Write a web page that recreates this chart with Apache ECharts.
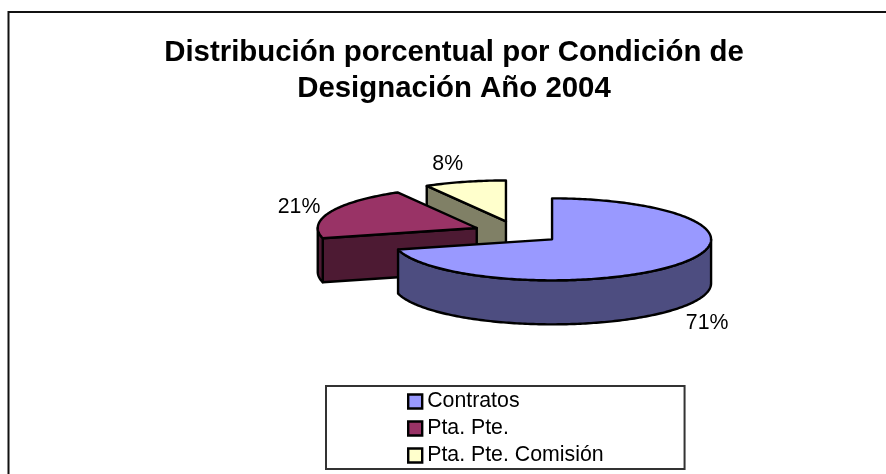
<!DOCTYPE html>
<html>
<head>
<meta charset="utf-8">
<style>html,body{margin:0;padding:0;background:#fff}#c{width:886px;height:474px}</style>
<script src="https://cdn.jsdelivr.net/npm/echarts@6/dist/echarts.min.js"></script>
</head>
<body>
<div id="c"></div>
<script>
const titleLines = ['Distribución porcentual por Condición de', 'Designación Año 2004'];
const categories = ['Contratos', 'Pta. Pte.', 'Pta. Pte. Comisión'];
const percentValues = [71, 20.7, 8.3];
const topColors = ['#9999FF', '#993366', '#FFFFCC'];
const wallColors = ['#4D4D80', '#4D1A33', '#808066'];

// Projection of the tilted, exploded pie
const cx = 517.3, cy = 232.4, rx = 159, ry = 41, depth = 44, explode = 44;
const total = percentValues.reduce((a, b) => a + b, 0);
const rad = d => d * Math.PI / 180;
const labelNudge = [[1, 2], [2, 3], [-8, 2]];

function sliceShapes(index) {
  const start = percentValues.slice(0, index).reduce((a, b) => a + b, 0) / total * 360;
  const end = start + percentValues[index] / total * 360;
  const mid = (start + end) / 2;
  const ax = cx + explode * Math.sin(rad(mid));
  const ay = cy - explode * (ry / rx) * Math.cos(rad(mid));
  const pt = (deg, drop) => [ax + rx * Math.sin(rad(deg)), ay - ry * Math.cos(rad(deg)) + (drop || 0)];
  const arc = (a, b, drop) => {
    const out = [];
    const n = Math.max(2, Math.ceil(Math.abs(b - a)));
    for (let i = 0; i <= n; i++) out.push(pt(a + (b - a) * i / n, drop));
    return out;
  };
  const stroke = { stroke: '#000', lineWidth: 2.4, lineJoin: 'round' };
  const children = [];
  const poly = (points, fill) => children.push({
    type: 'polygon', shape: { points }, style: Object.assign({ fill }, stroke)
  });
  // Cut faces that look towards the viewer
  if (Math.sin(rad(start)) < -1e-6) {
    const p = pt(start);
    poly([[ax, ay], p, [p[0], p[1] + depth], [ax, ay + depth]], wallColors[index]);
  }
  if (Math.sin(rad(end)) > 1e-6) {
    const p = pt(end);
    poly([[ax, ay], p, [p[0], p[1] + depth], [ax, ay + depth]], wallColors[index]);
  }
  // Outer rim where it faces the viewer
  const a = Math.max(start, 90), b = Math.min(end, 270);
  if (b > a) poly(arc(a, b).concat(arc(b, a, depth)), wallColors[index]);
  // Top face
  poly([[ax, ay]].concat(arc(start, end)), topColors[index]);
  // Percentage label
  const lx = ax + 195 * Math.sin(rad(mid)) + labelNudge[index][0];
  const ly = ay - 61 * Math.cos(rad(mid)) + labelNudge[index][1] + (Math.cos(rad(mid)) < 0 ? depth : 0);
  children.push({
    type: 'text',
    style: {
      x: lx, y: ly, text: Math.round(percentValues[index]) + '%', fill: '#000',
      font: '21.3px "Liberation Sans", Arial, sans-serif', align: 'center', verticalAlign: 'middle'
    }
  });
  return { type: 'group', children };
}

const series = categories.map((name, i) => ({
  type: 'custom',
  name,
  coordinateSystem: 'none',
  silent: true,
  animation: false,
  z: 3 - i,
  itemStyle: { color: topColors[i] },
  data: [percentValues[i]],
  renderItem: () => sliceShapes(i)
}));

const chart = echarts.init(document.getElementById('c'), null, { renderer: 'canvas' });
chart.setOption({
  animation: false,
  backgroundColor: '#fff',
  title: {
    text: titleLines.join('\n'),
    left: 449, top: 30, textAlign: 'center',
    textStyle: { fontFamily: '"Liberation Sans", Arial, sans-serif', fontWeight: 'bold', fontSize: 29.4, lineHeight: 36, color: '#000' }
  },
  legend: {
    orient: 'vertical', left: 326, top: 386,
    data: categories,
    icon: 'rect', itemWidth: 14, itemHeight: 14, itemGap: 6, align: 'left',
    padding: [5, 81, 3, 81],
    backgroundColor: '#fff', borderColor: '#333', borderWidth: 2, borderRadius: 0,
    selectedMode: false,
    itemStyle: { borderColor: '#000', borderWidth: 2.4 },
    textStyle: { fontFamily: '"Liberation Sans", Arial, sans-serif', fontSize: 21.3, color: '#000', padding: [0, 0, 0, 0] }
  },
  graphic: [{
    type: 'polyline', silent: true,
    shape: { points: [[8.5, 474], [8.5, 12], [886, 12]] },
    style: { stroke: '#111', lineWidth: 2, fill: null }
  }],
  series
});
</script>
</body>
</html>
